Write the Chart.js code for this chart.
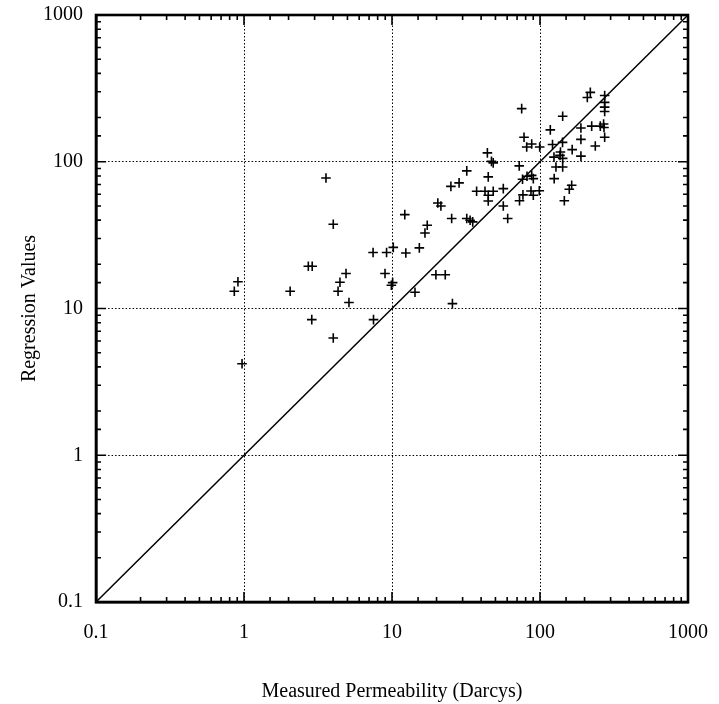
<!DOCTYPE html>
<html>
<head>
<meta charset="utf-8">
<script src="https://cdn.jsdelivr.net/npm/chart.js@4/dist/chart.umd.min.js"></script>
<style>
  html, body { margin: 0; padding: 0; background: #fff; }
  #grafico { display: block; }
</style>
</head>
<body>
<canvas id="grafico" width="719" height="704"></canvas>
<script>
// measured permeability (Darcys) and regression value for each sample
const measured = [
  0.86, 0.91, 0.97, 2.05, 2.72, 2.89, 2.87, 3.58, 4.01, 4.01,
  4.32, 4.45, 4.89, 5.12, 7.45, 7.5, 8.97, 9.19, 10.1, 9.9,
  10.2, 12.2, 12.4, 14.3, 15.3, 16.7, 17.3, 19.8, 22.9, 20.4,
  21.4, 25.0, 28.4, 25.3, 25.6, 32.0, 33.7, 35.1, 32.0, 37.3,
  42.5, 48.3, 44.1, 44.7, 44.7, 44.7, 48.3, 47.0, 56.5, 56.5,
  60.5, 72.4, 72.7, 76.7, 76.2, 81.7, 87.9, 90.1, 86.9, 90.1,
  98.9, 75.2, 78.0, 81.3, 87.9, 99.5, 121.5, 117.4, 142, 142.3,
  165, 137.5, 124.3, 136.5, 142.3, 128.2, 142.3, 124.7, 146, 157.7,
  163.7, 189, 189, 189, 208.8, 218.8, 223.5, 236.4, 255.5, 269,
  270.6, 273.5, 273.5, 273.5, 273.5, 273.5
];
const regression = [
  13.1, 15.2, 4.2, 13.1, 19.4, 19.4, 8.4, 77.5, 37.5, 6.3,
  13.1, 15.1, 17.3, 11.0, 24.1, 8.4, 17.3, 24.1, 15.0, 14.4,
  26.1, 43.6, 23.9, 12.9, 25.9, 32.7, 36.9, 17.0, 17.0, 52.3,
  49.9, 68.0, 71.8, 41.0, 10.8, 41.0, 39.9, 38.9, 86.7, 62.9,
  62.9, 62.9, 115, 78.9, 59.1, 54.0, 98.3, 100.6, 65.6, 49.9,
  41.0, 93.8, 54.2, 59.5, 75.9, 79.6, 80.7, 76.7, 63.2, 59.1,
  63.4, 230, 147, 126, 132, 126, 131, 165, 135.5, 204,
  121, 116.4, 107.5, 110.6, 105.5, 92.0, 92.0, 76.7, 54.2, 64.9,
  69.1, 109.2, 170, 142, 274, 297, 175, 128, 175, 181,
  171, 147, 283, 254, 235.6, 220
];
// 1:1 reference line
const linhaX = [0.1, 1000];
const linhaY = [0.1, 1000];
const eixoMin = 0.1;
const eixoMax = 1000;

function ehDecada(v) {
  const l = Math.log10(v);
  return Math.abs(l - Math.round(l)) < 1e-6;
}

function rotuloLog(v) {
  if (!ehDecada(v)) return "";
  return v < 1 ? String(Math.round(v * 10) / 10) : String(Math.round(v));
}

const fonte = "'Liberation Serif', 'Times New Roman', serif";

// inward tick marks on all four sides plus the closed frame
const molduraPlugin = {
  id: "moldura",
  afterDraw(chart) {
    const { ctx, chartArea: a, scales } = chart;
    ctx.save();
    ctx.strokeStyle = "#000";
    ctx.lineWidth = 1.6;
    scales.x.ticks.forEach((t) => {
      const px = scales.x.getPixelForValue(t.value);
      const len = ehDecada(t.value) ? 10 : 5;
      ctx.beginPath();
      ctx.moveTo(px, a.bottom);
      ctx.lineTo(px, a.bottom - len);
      ctx.moveTo(px, a.top);
      ctx.lineTo(px, a.top + len);
      ctx.stroke();
    });
    scales.y.ticks.forEach((t) => {
      const py = scales.y.getPixelForValue(t.value);
      const len = ehDecada(t.value) ? 10 : 5;
      ctx.beginPath();
      ctx.moveTo(a.left, py);
      ctx.lineTo(a.left + len, py);
      ctx.moveTo(a.right, py);
      ctx.lineTo(a.right - len, py);
      ctx.stroke();
    });
    ctx.lineWidth = 2.6;
    ctx.strokeRect(a.left, a.top, a.right - a.left, a.bottom - a.top);
    ctx.restore();
  }
};

const pontos = measured.map((x, i) => ({ x, y: regression[i] }));
const linha = linhaX.map((x, i) => ({ x, y: linhaY[i] }));

function eixo(titulo, lado) {
  return {
    type: "logarithmic",
    min: eixoMin,
    max: eixoMax,
    grid: {
      color: (c) => (c.tick && ehDecada(c.tick.value) ? "#000" : "rgba(0,0,0,0)"),
      lineWidth: 1,
      drawTicks: false
    },
    border: { display: true, color: "#000", width: 2.6, dash: [1.5, 2] },
    ticks: {
      autoSkip: false,
      maxRotation: 0,
      color: "#000",
      padding: lado === "x" ? 19 : 13,
      font: { family: fonte, size: 20 },
      callback: (v) => rotuloLog(v)
    },
    title: {
      display: true,
      text: titulo,
      color: "#000",
      font: { family: fonte, size: 20 },
      padding: lado === "x" ? { top: 0, bottom: 0 } : { top: 18, bottom: 0 }
    },
    afterFit: (s) => {
      if (lado === "x") s.height = 102;
      else s.width = 96;
      // labels may overhang the plot edges; keep the plot box fixed
      s.paddingTop = 0;
      s.paddingBottom = 0;
      s.paddingLeft = 0;
      s.paddingRight = 0;
    }
  };
}

new Chart(document.getElementById("grafico").getContext("2d"), {
  type: "scatter",
  data: {
    datasets: [
      {
        label: "Amostras",
        data: pontos,
        pointStyle: "cross",
        pointRadius: 4.8,
        pointBorderWidth: 1.6,
        borderColor: "#000",
        backgroundColor: "#000"
      },
      {
        type: "line",
        label: "1:1",
        data: linha,
        borderColor: "#000",
        borderWidth: 1.5,
        pointRadius: 0,
        fill: false
      }
    ]
  },
  options: {
    responsive: false,
    animation: false,
    layout: { padding: { top: 15, right: 31, left: 0, bottom: 0 } },
    plugins: {
      legend: { display: false },
      tooltip: { enabled: false }
    },
    scales: {
      x: eixo("Measured Permeability (Darcys)", "x"),
      y: eixo("Regression Values", "y")
    }
  },
  plugins: [molduraPlugin]
});
</script>
</body>
</html>
